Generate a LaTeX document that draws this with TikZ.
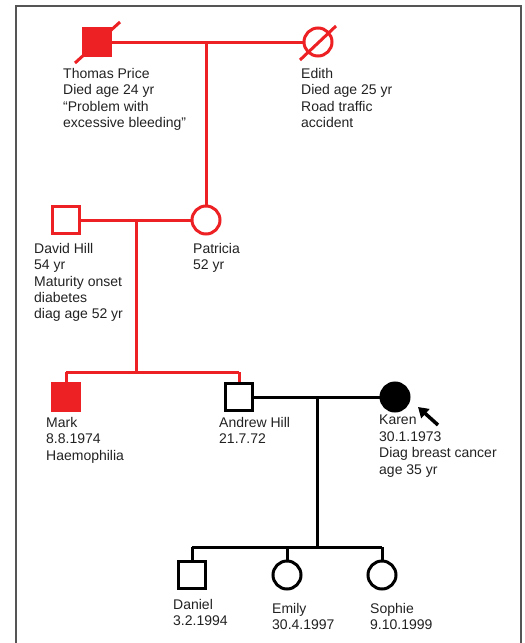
\documentclass[tikz,border=0pt]{standalone}
\usepackage{fontspec}
\setmainfont{Liberation Sans}
\usetikzlibrary{arrows.meta}
\definecolor{pedred}{HTML}{ED2024}
\definecolor{framegray}{HTML}{555555}
\definecolor{txt}{HTML}{222222}
\begin{document}
\begin{tikzpicture}[x=1pt,y=-1pt,
  male/.style={rectangle, minimum size=27pt, inner sep=0pt, line width=3pt},
  female/.style={circle, minimum size=28pt, inner sep=0pt, line width=3pt},
  redline/.style={draw=pedred, line width=3pt},
  blackline/.style={draw=black, line width=3pt},
  lbl/.style={anchor=north west, inner sep=0pt, align=left, text=txt,
              font=\fontsize{14}{16.4}\selectfont}]
\useasboundingbox (0,0) rectangle (525,643);
\draw[framegray, line width=2pt] (16,643) -- (16,6) -- (521,6) -- (521,643);

% generation I
\node[male, draw=pedred, fill=pedred] (thomas) at (97,42) {};
\node[female, draw=pedred, fill=white] (edith) at (318,42) {};
\draw[redline] ([shift={(-22,21)}]thomas.center) -- ([shift={(23,-20)}]thomas.center);
\draw[redline] ([shift={(-18,18)}]edith.center) -- ([shift={(18,-16)}]edith.center);
\draw[redline] (thomas) -- (edith);
\coordinate (m1) at (206,42);

% generation II
\node[male, draw=pedred, fill=white] (david) at (66,220) {};
\node[female, draw=pedred, fill=white] (patricia) at (206,220) {};
\draw[redline] (m1) -- (patricia.north);
\draw[redline] (david) -- (patricia);
\coordinate (m2) at (136,220);
\coordinate (s2) at (136,372);
\coordinate (s2l) at (66,372);
\coordinate (s2r) at (239,372);
\draw[redline] (m2) -- (s2);
\draw[redline] (s2l) -- (s2r);

% generation III
\node[male, draw=pedred, fill=pedred] (mark) at (66,397) {};
\node[male, draw=black, fill=white] (andrew) at (239,397) {};
\node[female, draw=black, fill=black] (karen) at (395,397) {};
\draw[redline] (s2l) -- (mark.north);
\draw[redline] (s2r) -- (andrew.north);
\draw[blackline] (andrew) -- (karen);
\coordinate (m3) at (317,397);
\coordinate (s3) at (317,547);
\coordinate (s3l) at (192,547);
\coordinate (s3r) at (382,547);
\draw[blackline] (m3) -- (s3);
\draw[blackline] (s3l) -- (s3r);
\coordinate (arrS) at (438,425);
\coordinate (arrE) at (418,407);
\draw[blackline, line width=3.5pt, -{Triangle[length=10pt,width=12pt]}] (arrS) -- (arrE);

% generation IV
\node[male, draw=black, fill=white] (daniel) at (192,575) {};
\node[female, draw=black, fill=white] (emily) at (287,575) {};
\node[female, draw=black, fill=white] (sophie) at (382,575) {};
\coordinate (s3m) at (287,547);
\draw[blackline] (s3l) -- (daniel.north);
\draw[blackline] (s3m) -- (emily.north);
\draw[blackline] (s3r) -- (sophie.north);

% labels
\node[lbl] (tl) at (63,68) {Thomas Price\\Died age 24 yr\\“Problem with\\excessive bleeding”};
\node[lbl] (el) at (301,68) {Edith\\Died age 25 yr\\Road traffic\\accident};
\node[lbl] (dl) at (34,243) {David Hill\\54 yr\\Maturity onset\\diabetes\\diag age 52 yr};
\node[lbl] (pl) at (193,243) {Patricia\\52 yr};
\node[lbl] (ml) at (46,417) {Mark\\8.8.1974\\Haemophilia};
\node[lbl] (al) at (219,417) {Andrew Hill\\21.7.72};
\node[lbl] (kl) at (379,415) {Karen\\30.1.1973\\Diag breast cancer\\age 35 yr};
\node[lbl] (dnl) at (173,599) {Daniel\\3.2.1994};
\node[lbl] (eml) at (272,603) {Emily\\30.4.1997};
\node[lbl] (sol) at (370,603) {Sophie\\9.10.1999};
\end{tikzpicture}
\end{document}
